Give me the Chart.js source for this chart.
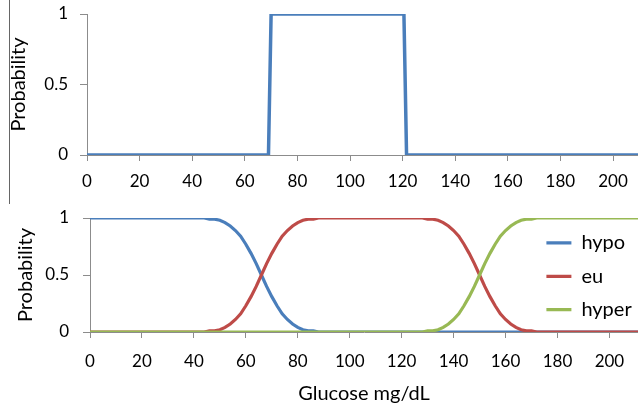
<!DOCTYPE html>
<html>
<head>
<meta charset="utf-8">
<script src="https://cdn.jsdelivr.net/npm/chart.js@4.4.0/dist/chart.umd.min.js"></script>
<style>
  body { margin: 0; background: #fff; }
  #wrap { position: relative; width: 638px; height: 403px; overflow: hidden; }
  #topChart { position: absolute; left: 0; top: 0; }
  #bottomChart { position: absolute; left: 0; top: 200px; }
  #edge { position: absolute; left: 9px; top: 0; width: 1px; height: 204px; background: #666; }
</style>
</head>
<body>
<div id="wrap">
  <canvas id="topChart" width="638" height="200"></canvas>
  <canvas id="bottomChart" width="638" height="203"></canvas>
  <div id="edge"></div>
</div>
<script>
// top panel: crisp (0/1) normal range
const stepGlucose = [0, 69, 70, 120.5, 121.5, 210];
const stepProb = [0, 0, 1, 1, 0, 0];

// bottom panel: fuzzy memberships
const glucose = [0, 40, 42, 44, 46, 48, 50, 52, 54, 56, 58, 60, 62, 64, 66, 68, 70, 72, 74, 76, 78, 80, 82, 84, 86, 88, 90, 92,
  124, 126, 128, 130, 132, 134, 136, 138, 140, 142, 144, 146, 148, 150, 152, 154, 156, 158, 160, 162, 164, 166, 168, 170, 172, 174, 176, 211];
const hypo = [1, 1, 1, 1, 0.99, 0.99, 0.98, 0.96, 0.93, 0.89, 0.84, 0.77, 0.69, 0.6, 0.5, 0.4, 0.31, 0.23, 0.16, 0.11, 0.07, 0.04, 0.02, 0.01, 0.01, 0, 0, 0,
  0, 0, 0, 0, 0, 0, 0, 0, 0, 0, 0, 0, 0, 0, 0, 0, 0, 0, 0, 0, 0, 0, 0, 0, 0, 0, 0, 0];
const eu = [0, 0, 0, 0, 0.01, 0.01, 0.02, 0.04, 0.07, 0.11, 0.16, 0.23, 0.31, 0.4, 0.5, 0.6, 0.69, 0.77, 0.84, 0.89, 0.93, 0.96, 0.98, 0.99, 0.99, 1, 1, 1,
  1, 1, 1, 0.99, 0.99, 0.98, 0.96, 0.93, 0.89, 0.84, 0.77, 0.69, 0.6, 0.5, 0.4, 0.31, 0.23, 0.16, 0.11, 0.07, 0.04, 0.02, 0.01, 0.01, 0, 0, 0, 0];
const hyper = [0, 0, 0, 0, 0, 0, 0, 0, 0, 0, 0, 0, 0, 0, 0, 0, 0, 0, 0, 0, 0, 0, 0, 0, 0, 0, 0, 0,
  0, 0, 0, 0.01, 0.01, 0.02, 0.04, 0.07, 0.11, 0.16, 0.23, 0.31, 0.4, 0.5, 0.6, 0.69, 0.77, 0.84, 0.89, 0.93, 0.96, 0.98, 0.99, 0.99, 1, 1, 1, 1];

const xTicks = [0, 20, 40, 60, 80, 100, 120, 140, 160, 180, 200];
const yTicks = [0, 0.5, 1];

const BLUE = '#4A7EBB', RED = '#BE4B48', GREEN = '#98B954', AXIS = '#8c8c8c';

Chart.defaults.font.family = 'Lato';
Chart.defaults.color = '#000';
Chart.defaults.animation = false;

const pts = (xs, ys) => xs.map((x, i) => ({ x: x, y: ys[i] }));

function axes(o) {
  return {
    x: {
      type: 'linear', min: 0, max: o.xMax,
      afterFit: s => { s.height = o.xHeight; s.paddingLeft = 0; s.paddingRight = 0; },
      afterBuildTicks: s => { s.ticks = xTicks.map(v => ({ value: v })); },
      ticks: { font: { size: 17 }, padding: o.xPad, callback: v => String(v) },
      grid: { drawOnChartArea: false, tickLength: 6, color: AXIS },
      border: { color: AXIS },
      title: o.xTitle ? { display: true, text: o.xTitle, font: { size: 20 }, padding: { top: 0, bottom: -3 } } : { display: false }
    },
    y: {
      min: 0, max: 1,
      afterFit: s => { s.width = o.yWidth; s.paddingTop = 0; s.paddingBottom = 0; },
      afterBuildTicks: s => { s.ticks = yTicks.map(v => ({ value: v })); },
      ticks: { font: { size: 17 }, padding: o.yPad, callback: v => String(v) },
      grid: { drawOnChartArea: false, tickLength: 7, color: AXIS },
      border: { color: AXIS },
      title: { display: true, text: 'Probability', font: { size: 20 }, padding: { top: o.yTitlePad, bottom: 0 } }
    }
  };
}

new Chart(document.getElementById('topChart'), {
  type: 'line',
  data: {
    datasets: [{
      label: 'normal',
      data: pts(stepGlucose, stepProb),
      borderColor: BLUE, borderWidth: 3.5, pointRadius: 0, tension: 0,
      borderJoinStyle: 'miter'
    }]
  },
  options: {
    responsive: false,
    layout: { padding: { top: 14, left: 0, right: 0, bottom: 0 } },
    plugins: { legend: { display: false }, tooltip: { enabled: false } },
    scales: axes({ xMax: 209.5, xHeight: 45, xPad: 10, yWidth: 87, yPad: 12, yTitlePad: 7 })
  }
});

// put the legend inside the plot, on the right
const legendInside = {
  id: 'legendInside',
  afterLayout(chart) {
    const lg = chart.legend;
    lg.left = 533;
    lg.right = 638;
    lg.top = 19.5;
    lg.bottom = 400;
  }
};

new Chart(document.getElementById('bottomChart'), {
  type: 'line',
  data: {
    datasets: [
      { label: 'hypo', data: pts(glucose, hypo), borderColor: BLUE, backgroundColor: BLUE, borderWidth: 3.2, pointRadius: 0, order: 3 },
      { label: 'eu', data: pts(glucose, eu), borderColor: RED, backgroundColor: RED, borderWidth: 3.2, pointRadius: 0, order: 2 },
      { label: 'hyper', data: pts(glucose, hyper), borderColor: GREEN, backgroundColor: GREEN, borderWidth: 3.2, pointRadius: 0, order: 1 }
    ]
  },
  options: {
    responsive: false,
    layout: { padding: { top: 18, left: 0, right: 0, bottom: 0 } },
    plugins: {
      tooltip: { enabled: false },
      legend: {
        position: 'chartArea',
        align: 'start',
        labels: {
          usePointStyle: true, pointStyle: 'line', pointStyleWidth: 25, padding: 13.4, font: { size: 20 },
          sort: (a, b) => a.datasetIndex - b.datasetIndex
        }
      }
    },
    scales: axes({ xMax: 211, xHeight: 71, xPad: 13, yWidth: 90, yPad: 14, yTitlePad: 14, xTitle: 'Glucose mg/dL' })
  },
  plugins: [legendInside]
});
</script>
</body>
</html>
